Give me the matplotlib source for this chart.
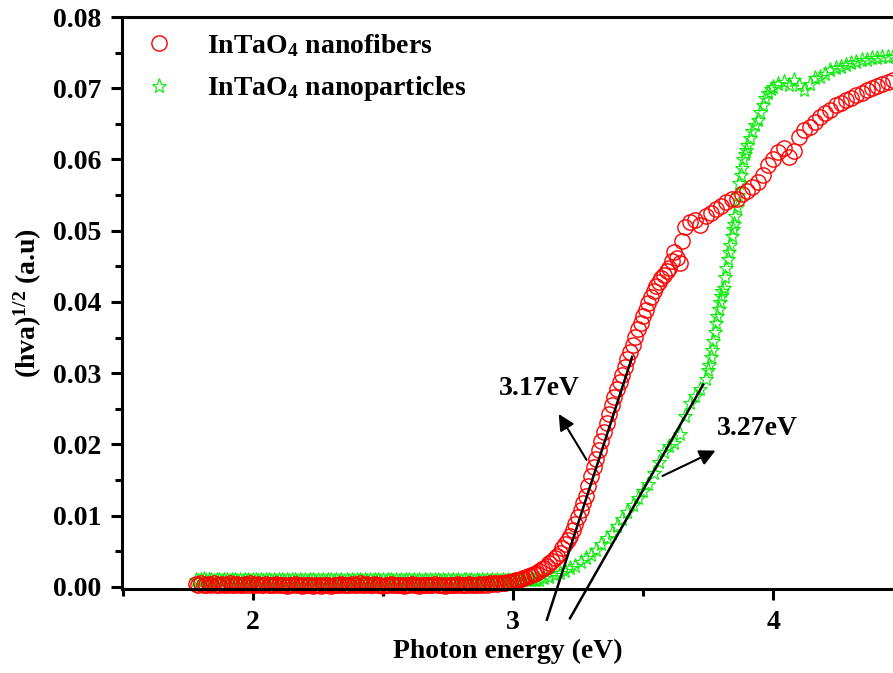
import numpy as np
import matplotlib
matplotlib.use("Agg")
from matplotlib import pyplot as plt
from matplotlib.ticker import MultipleLocator, FormatStrFormatter

# InTaO4 nanofibers (red circles)
fiber_energy = [
    1.78, 1.79, 1.80, 1.81, 1.82, 1.83, 1.84, 1.85, 1.86, 1.87,
    1.88, 1.89, 1.90, 1.91, 1.92, 1.93, 1.94, 1.95, 1.96, 1.97,
    1.98, 1.99, 2.00, 2.01, 2.02, 2.03, 2.04, 2.05, 2.06, 2.07,
    2.08, 2.09, 2.10, 2.11, 2.12, 2.13, 2.14, 2.15, 2.16, 2.17,
    2.18, 2.19, 2.20, 2.21, 2.22, 2.23, 2.24, 2.25, 2.26, 2.27,
    2.28, 2.29, 2.30, 2.31, 2.32, 2.33, 2.34, 2.35, 2.36, 2.37,
    2.38, 2.39, 2.40, 2.41, 2.42, 2.43, 2.44, 2.45, 2.46, 2.47,
    2.48, 2.49, 2.50, 2.51, 2.52, 2.53, 2.54, 2.55, 2.56, 2.57,
    2.58, 2.59, 2.60, 2.61, 2.62, 2.63, 2.64, 2.65, 2.66, 2.67,
    2.68, 2.69, 2.70, 2.71, 2.72, 2.73, 2.74, 2.75, 2.76, 2.77,
    2.78, 2.79, 2.80, 2.81, 2.82, 2.83, 2.84, 2.85, 2.86, 2.87,
    2.88, 2.89, 2.90, 2.91, 2.92, 2.93, 2.94, 2.95, 2.96, 2.97,
    2.98, 2.99,
    3.00, 3.01, 3.02, 3.03, 3.04, 3.05, 3.06, 3.07, 3.08, 3.09,
    3.10, 3.11, 3.12, 3.13, 3.14, 3.15, 3.16, 3.17, 3.18, 3.19,
    3.20, 3.21, 3.22, 3.23, 3.24, 3.25, 3.26, 3.27, 3.28, 3.29,
    3.30, 3.31, 3.32, 3.33, 3.34, 3.35, 3.36, 3.37, 3.38, 3.39,
    3.40, 3.41, 3.42, 3.43, 3.44, 3.45, 3.46, 3.47, 3.48, 3.49,
    3.50, 3.51, 3.52, 3.53, 3.54, 3.55, 3.56, 3.57, 3.58, 3.59,
    3.60, 3.61, 3.62, 3.63, 3.64, 3.65, 3.66,
    3.68, 3.70, 3.72, 3.74, 3.76, 3.78, 3.80, 3.82, 3.84, 3.86,
    3.88, 3.90, 3.92, 3.94, 3.96, 3.98, 4.00, 4.02, 4.04, 4.06,
    4.08, 4.10, 4.12, 4.14, 4.16, 4.18, 4.20, 4.22, 4.24, 4.26,
    4.28, 4.30, 4.32, 4.34, 4.36, 4.38, 4.40, 4.42, 4.44, 4.46,
]
fiber_value = [
    0.0004, 0.0003, 0.0005, 0.0003, 0.0002, 0.0004, 0.0003, 0.0005, 0.0002, 0.0003,
    0.0004, 0.0002, 0.0003, 0.0005, 0.0003, 0.0002, 0.0004, 0.0003, 0.0002, 0.0004,
    0.0003, 0.0005, 0.0002, 0.0003, 0.0004, 0.0002, 0.0003, 0.0004, 0.0002, 0.0003,
    0.0002, 0.0004, 0.0003, 0.0002, 0.0003, 0.0001, 0.0003, 0.0002, 0.0004, 0.0002,
    0.0003, 0.0001, 0.0002, 0.0003, 0.0002, 0.0001, 0.0003, 0.0002, 0.0001, 0.0002,
    0.0003, 0.0002, 0.0001, 0.0003, 0.0002, 0.0003, 0.0004, 0.0003, 0.0002, 0.0003,
    0.0004, 0.0002, 0.0003, 0.0005, 0.0003, 0.0002, 0.0004, 0.0003, 0.0002, 0.0004,
    0.0003, 0.0002, 0.0001, 0.0003, 0.0002, 0.0004, 0.0003, 0.0002, 0.0003, 0.0002,
    0.0001, 0.0003, 0.0002, 0.0004, 0.0002, 0.0003, 0.0001, 0.0002, 0.0003, 0.0002,
    0.0003, 0.0002, 0.0004, 0.0003, 0.0002, 0.0003, 0.0001, 0.0002, 0.0003, 0.0002,
    0.0003, 0.0004, 0.0002, 0.0003, 0.0002, 0.0004, 0.0003, 0.0002, 0.0003, 0.0004,
    0.0003, 0.0004, 0.0003, 0.0005, 0.0004, 0.0005, 0.0004, 0.0005, 0.0006, 0.0006,
    0.0007, 0.0007,
    0.0008, 0.0009, 0.0010, 0.0011, 0.0012, 0.0014, 0.0015, 0.0017, 0.0018, 0.0020,
    0.0022, 0.0025, 0.0027, 0.0030, 0.0033, 0.0036, 0.0040, 0.0044, 0.0048, 0.0054,
    0.0060, 0.0066, 0.0072, 0.0080, 0.0088, 0.0098, 0.0108, 0.0118, 0.0128, 0.0142,
    0.0155, 0.0168, 0.0180, 0.0192, 0.0205, 0.0218, 0.0230, 0.0243, 0.0255, 0.0267,
    0.0278, 0.0288, 0.0298, 0.0309, 0.0320, 0.0330, 0.0340, 0.0351, 0.0362, 0.0371,
    0.0380, 0.0389, 0.0398, 0.0407, 0.0415, 0.0422, 0.0428, 0.0433, 0.0438, 0.0443,
    0.0448, 0.0458, 0.0470, 0.0462, 0.0455, 0.0485, 0.0505,
    0.0512, 0.0515, 0.0508, 0.0520, 0.0525, 0.0530, 0.0535, 0.0540, 0.0545, 0.0545,
    0.0552, 0.0556, 0.0562, 0.0568, 0.0578, 0.0592, 0.0600, 0.0610, 0.0616, 0.0604,
    0.0612, 0.0632, 0.0641, 0.0646, 0.0653, 0.0660, 0.0665, 0.0670, 0.0677, 0.0680,
    0.0683, 0.0686, 0.0690, 0.0693, 0.0697, 0.0700, 0.0703, 0.0706, 0.0709, 0.0712,
]

# InTaO4 nanoparticles (green stars)
particle_energy = [
    1.78, 1.79, 1.80, 1.81, 1.82, 1.83, 1.84, 1.85, 1.86, 1.87,
    1.88, 1.89, 1.90, 1.91, 1.92, 1.93, 1.94, 1.95, 1.96, 1.97,
    1.98, 1.99, 2.00, 2.01, 2.02, 2.03, 2.04, 2.05, 2.06, 2.07,
    2.08, 2.09, 2.10, 2.11, 2.12, 2.13, 2.14, 2.15, 2.16, 2.17,
    2.18, 2.19, 2.20, 2.21, 2.22, 2.23, 2.24, 2.25, 2.26, 2.27,
    2.28, 2.29, 2.30, 2.31, 2.32, 2.33, 2.34, 2.35, 2.36, 2.37,
    2.38, 2.39, 2.40, 2.41, 2.42, 2.43, 2.44, 2.45, 2.46, 2.47,
    2.48, 2.49, 2.50, 2.51, 2.52, 2.53, 2.54, 2.55, 2.56, 2.57,
    2.58, 2.59, 2.60, 2.61, 2.62, 2.63, 2.64, 2.65, 2.66, 2.67,
    2.68, 2.69, 2.70, 2.71, 2.72, 2.73, 2.74, 2.75, 2.76, 2.77,
    2.78, 2.79, 2.80, 2.81, 2.82, 2.83, 2.84, 2.85, 2.86, 2.87,
    2.88, 2.89, 2.90, 2.91, 2.92, 2.93, 2.94, 2.95, 2.96, 2.97,
    2.98, 2.99, 3.00, 3.01, 3.02, 3.03, 3.04, 3.05, 3.06, 3.07,
    3.08, 3.09,
    3.10, 3.12, 3.14, 3.16, 3.18, 3.20, 3.22, 3.24, 3.26, 3.28,
    3.30, 3.32, 3.34, 3.36, 3.38, 3.40, 3.42, 3.44, 3.46, 3.48,
    3.50, 3.52, 3.54, 3.56, 3.58, 3.60, 3.62, 3.64, 3.66, 3.68,
    3.70, 3.72, 3.74,
    3.750, 3.755, 3.760, 3.765, 3.770, 3.775, 3.780, 3.785, 3.790, 3.795,
    3.800, 3.805, 3.810, 3.815, 3.820, 3.825, 3.830, 3.835, 3.840, 3.845,
    3.850, 3.855, 3.860, 3.865, 3.870, 3.875, 3.880, 3.885, 3.890, 3.895,
    3.900, 3.91, 3.92, 3.93, 3.94, 3.95, 3.96, 3.97, 3.98, 3.99,
    4.00, 4.02, 4.04, 4.06, 4.08, 4.10, 4.12, 4.14, 4.16, 4.18,
    4.20, 4.22, 4.24, 4.26, 4.28, 4.30, 4.32, 4.34, 4.36, 4.38,
    4.40, 4.42, 4.44, 4.46,
]
particle_value = [
    0.0010, 0.0008, 0.0009, 0.0011, 0.0008, 0.0009, 0.0010, 0.0008, 0.0009, 0.0010,
    0.0008, 0.0009, 0.0010, 0.0008, 0.0009, 0.0010, 0.0008, 0.0009, 0.0008, 0.0010,
    0.0009, 0.0008, 0.0009, 0.0010, 0.0008, 0.0009, 0.0008, 0.0010, 0.0009, 0.0008,
    0.0009, 0.0008, 0.0010, 0.0009, 0.0008, 0.0009, 0.0008, 0.0009, 0.0010, 0.0008,
    0.0009, 0.0008, 0.0009, 0.0008, 0.0010, 0.0009, 0.0008, 0.0009, 0.0008, 0.0009,
    0.0008, 0.0009, 0.0010, 0.0008, 0.0009, 0.0008, 0.0009, 0.0008, 0.0009, 0.0008,
    0.0009, 0.0008, 0.0009, 0.0010, 0.0008, 0.0009, 0.0008, 0.0009, 0.0008, 0.0009,
    0.0010, 0.0008, 0.0009, 0.0008, 0.0009, 0.0010, 0.0008, 0.0009, 0.0008, 0.0009,
    0.0008, 0.0009, 0.0010, 0.0008, 0.0009, 0.0008, 0.0009, 0.0008, 0.0009, 0.0008,
    0.0009, 0.0008, 0.0009, 0.0010, 0.0008, 0.0009, 0.0008, 0.0009, 0.0008, 0.0009,
    0.0008, 0.0009, 0.0008, 0.0009, 0.0010, 0.0008, 0.0009, 0.0008, 0.0009, 0.0008,
    0.0009, 0.0008, 0.0009, 0.0008, 0.0009, 0.0008, 0.0009, 0.0008, 0.0009, 0.0008,
    0.0009, 0.0008, 0.0009, 0.0009, 0.0008, 0.0009, 0.0009, 0.0010, 0.0009, 0.0010,
    0.0010, 0.0010,
    0.0010, 0.0012, 0.0014, 0.0016, 0.0019, 0.0022, 0.0026, 0.0030, 0.0035, 0.0040,
    0.0045, 0.0052, 0.0060, 0.0068, 0.0076, 0.0085, 0.0095, 0.0105, 0.0115, 0.0125,
    0.0135, 0.0145, 0.0160, 0.0175, 0.0190, 0.0198, 0.0202, 0.0215, 0.0240, 0.0258,
    0.0268, 0.0278, 0.0292,
    0.0305, 0.0312, 0.0323, 0.0333, 0.0345, 0.0358, 0.0370, 0.0380, 0.0390, 0.0400,
    0.0408, 0.0415, 0.0420, 0.0435, 0.0448, 0.0460, 0.0470, 0.0480, 0.0492, 0.0502,
    0.0510, 0.0520, 0.0533, 0.0550, 0.0567, 0.0578, 0.0588, 0.0600, 0.0608, 0.0614,
    0.0620, 0.0630, 0.0640, 0.0648, 0.0656, 0.0666, 0.0676, 0.0686, 0.0694, 0.0699,
    0.0702, 0.0706, 0.0709, 0.0705, 0.0712, 0.0704, 0.0698, 0.0706, 0.0714, 0.0716,
    0.0720, 0.0725, 0.0728, 0.0730, 0.0732, 0.0735, 0.0737, 0.0739, 0.0740, 0.0742,
    0.0743, 0.0744, 0.0744, 0.0745,
]

# tangent lines used for the band gap read-off
fiber_fit_x = [3.130, 3.458]
fiber_fit_y = [-0.0046, 0.0323]
particle_fit_x = [3.219, 3.731]
particle_fit_y = [-0.0044, 0.0284]

labels = ["InTaO$_4$ nanofibers", "InTaO$_4$ nanoparticles"]

plt.rcParams["font.family"] = "Liberation Serif"
plt.rcParams["font.weight"] = "bold"
plt.rcParams["mathtext.fontset"] = "custom"
plt.rcParams["mathtext.rm"] = "Liberation Serif:bold"
plt.rcParams["mathtext.bf"] = "Liberation Serif:bold"
plt.rcParams["mathtext.it"] = "Liberation Serif:bold"
plt.rcParams["mathtext.default"] = "rm"

fig = plt.figure(figsize=(8.93, 6.73), dpi=100)
ax = fig.add_axes([0.1366, 0.1248, 0.8634, 0.8499])

ax.plot(particle_energy, particle_value, linestyle="none", marker="*",
        markersize=11, markerfacecolor="none", markeredgecolor="#00ee00",
        markeredgewidth=0.8, label=labels[1], clip_on=False)
ax.plot(fiber_energy, fiber_value, linestyle="none", marker="o",
        markersize=11, markerfacecolor="none", markeredgecolor="#ff0000",
        markeredgewidth=1.0, label=labels[0], clip_on=False)

ax.plot(fiber_fit_x, fiber_fit_y, color="black", lw=1.8, clip_on=False)
ax.plot(particle_fit_x, particle_fit_y, color="black", lw=1.8, clip_on=False)

arrow = dict(arrowstyle="-|>", color="black", lw=1.5, mutation_scale=24)
ax.annotate("", xy=(3.170, 0.0246), xytext=(3.288, 0.0175), arrowprops=arrow)
ax.annotate("", xy=(3.788, 0.0193), xytext=(3.565, 0.0154), arrowprops=arrow)
ax.text(3.10, 0.0278, "3.17eV", fontsize=20, fontweight="bold",
        ha="center", va="center")
ax.text(3.938, 0.0223, "3.27eV", fontsize=20, fontweight="bold",
        ha="center", va="center")

ax.set_xlim(1.496, 4.461)
ax.set_ylim(-0.0003, 0.08)
ax.xaxis.set_major_locator(MultipleLocator(1))
ax.xaxis.set_minor_locator(MultipleLocator(0.5))
ax.yaxis.set_major_locator(MultipleLocator(0.01))
ax.yaxis.set_minor_locator(MultipleLocator(0.005))
ax.yaxis.set_major_formatter(FormatStrFormatter("%.2f"))

for s in ["left", "bottom", "top"]:
    ax.spines[s].set_linewidth(2.2)
ax.spines["right"].set_visible(False)
ax.tick_params(which="major", direction="out", length=8, width=2.2,
               labelsize=20, pad=7)
ax.tick_params(which="minor", direction="out", length=5, width=2.2)
for t in ax.get_xticklabels() + ax.get_yticklabels():
    t.set_fontweight("bold")

ax.set_xlabel("Photon energy (eV)", fontsize=20, fontweight="bold", labelpad=3)
ax.set_ylabel("(hva)$^{1/2}$ (a.u)", fontsize=20, fontweight="bold", labelpad=6)

handles, _ = ax.get_legend_handles_labels()
ax.legend(handles[::-1], labels, loc="upper left", frameon=False, numpoints=1,
          prop={"family": "Liberation Serif", "weight": "bold", "size": 20},
          handlelength=1.6, handletextpad=0.9, labelspacing=0.55,
          borderaxespad=0.15)

fig.savefig("out.png", dpi=100)
